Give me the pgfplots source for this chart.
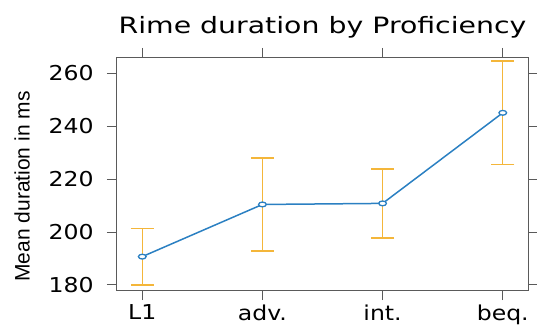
\documentclass[border=0pt]{standalone}
\usepackage{pgfplots}
\pgfplotsset{compat=1.18}
\usepackage{fontspec}
\setmainfont{DejaVu Sans}
\newfontfamily\lib{Liberation Sans}
\usetikzlibrary{calc}
\definecolor{lineblue}{HTML}{2B80C2}
\definecolor{errorange}{HTML}{F4B63A}
\definecolor{axgray}{HTML}{5A5A5A}
\pgfplotstableread{
x y err
0 190.7 10.7
1 210.4 17.5
2 210.8 13.0
3 245.0 19.5
}\rimedata
\begin{document}
\begin{tikzpicture}
\begin{axis}[
  scale only axis, width=411pt, height=232pt,
  xmin=-0.21, xmax=3.21, ymin=178.1, ymax=265.7,
  xtick={0,1,2,3}, xticklabels={L1,adv.,int.,beq.},
  ytick={180,200,220,240,260},
  tick align=outside, tick pos=both,
  major tick length=10pt,
  axis line style={axgray, line width=1pt},
  every tick/.style={axgray, line width=1pt},
  /pgf/number format/assume math mode=true,
  ticklabel style={font=\fontsize{20.5}{24}\selectfont, xscale=1.15},
  yticklabel style={xshift=-8pt},
  xticklabel style={yshift=-1pt},
  title={Rime duration by Proficiency},
  title style={font=\fontsize{22.5}{26}\selectfont, xscale=1.26, yshift=10pt},
  ylabel={Mean duration in ms},
  ylabel style={font=\lib\fontsize{21}{24}\selectfont, at={(axis description cs:-0.231,0.446)}, anchor=center},
  clip=false,
]
\addplot[errorange, only marks, mark=none,
  error bars/.cd, y dir=both, y explicit,
  error bar style={line width=1.4pt, errorange},
  error mark options={rotate=90, mark size=11.5pt, line width=1.4pt, errorange}]
  table[x=x, y=y, y error=err] {\rimedata};
\addplot[lineblue, line width=1.5pt, mark=*, mark size=2.4pt,
  mark options={line width=1.3pt, fill=white, draw=lineblue, xscale=1.6}]
  table[x=x, y=y] {\rimedata};
\end{axis}
\pgfresetboundingbox
\path[use as bounding box] ($(current axis.south west)+(-117pt,-35pt)$) rectangle ($(current axis.north east)+(9pt,58pt)$);
\end{tikzpicture}
\end{document}
